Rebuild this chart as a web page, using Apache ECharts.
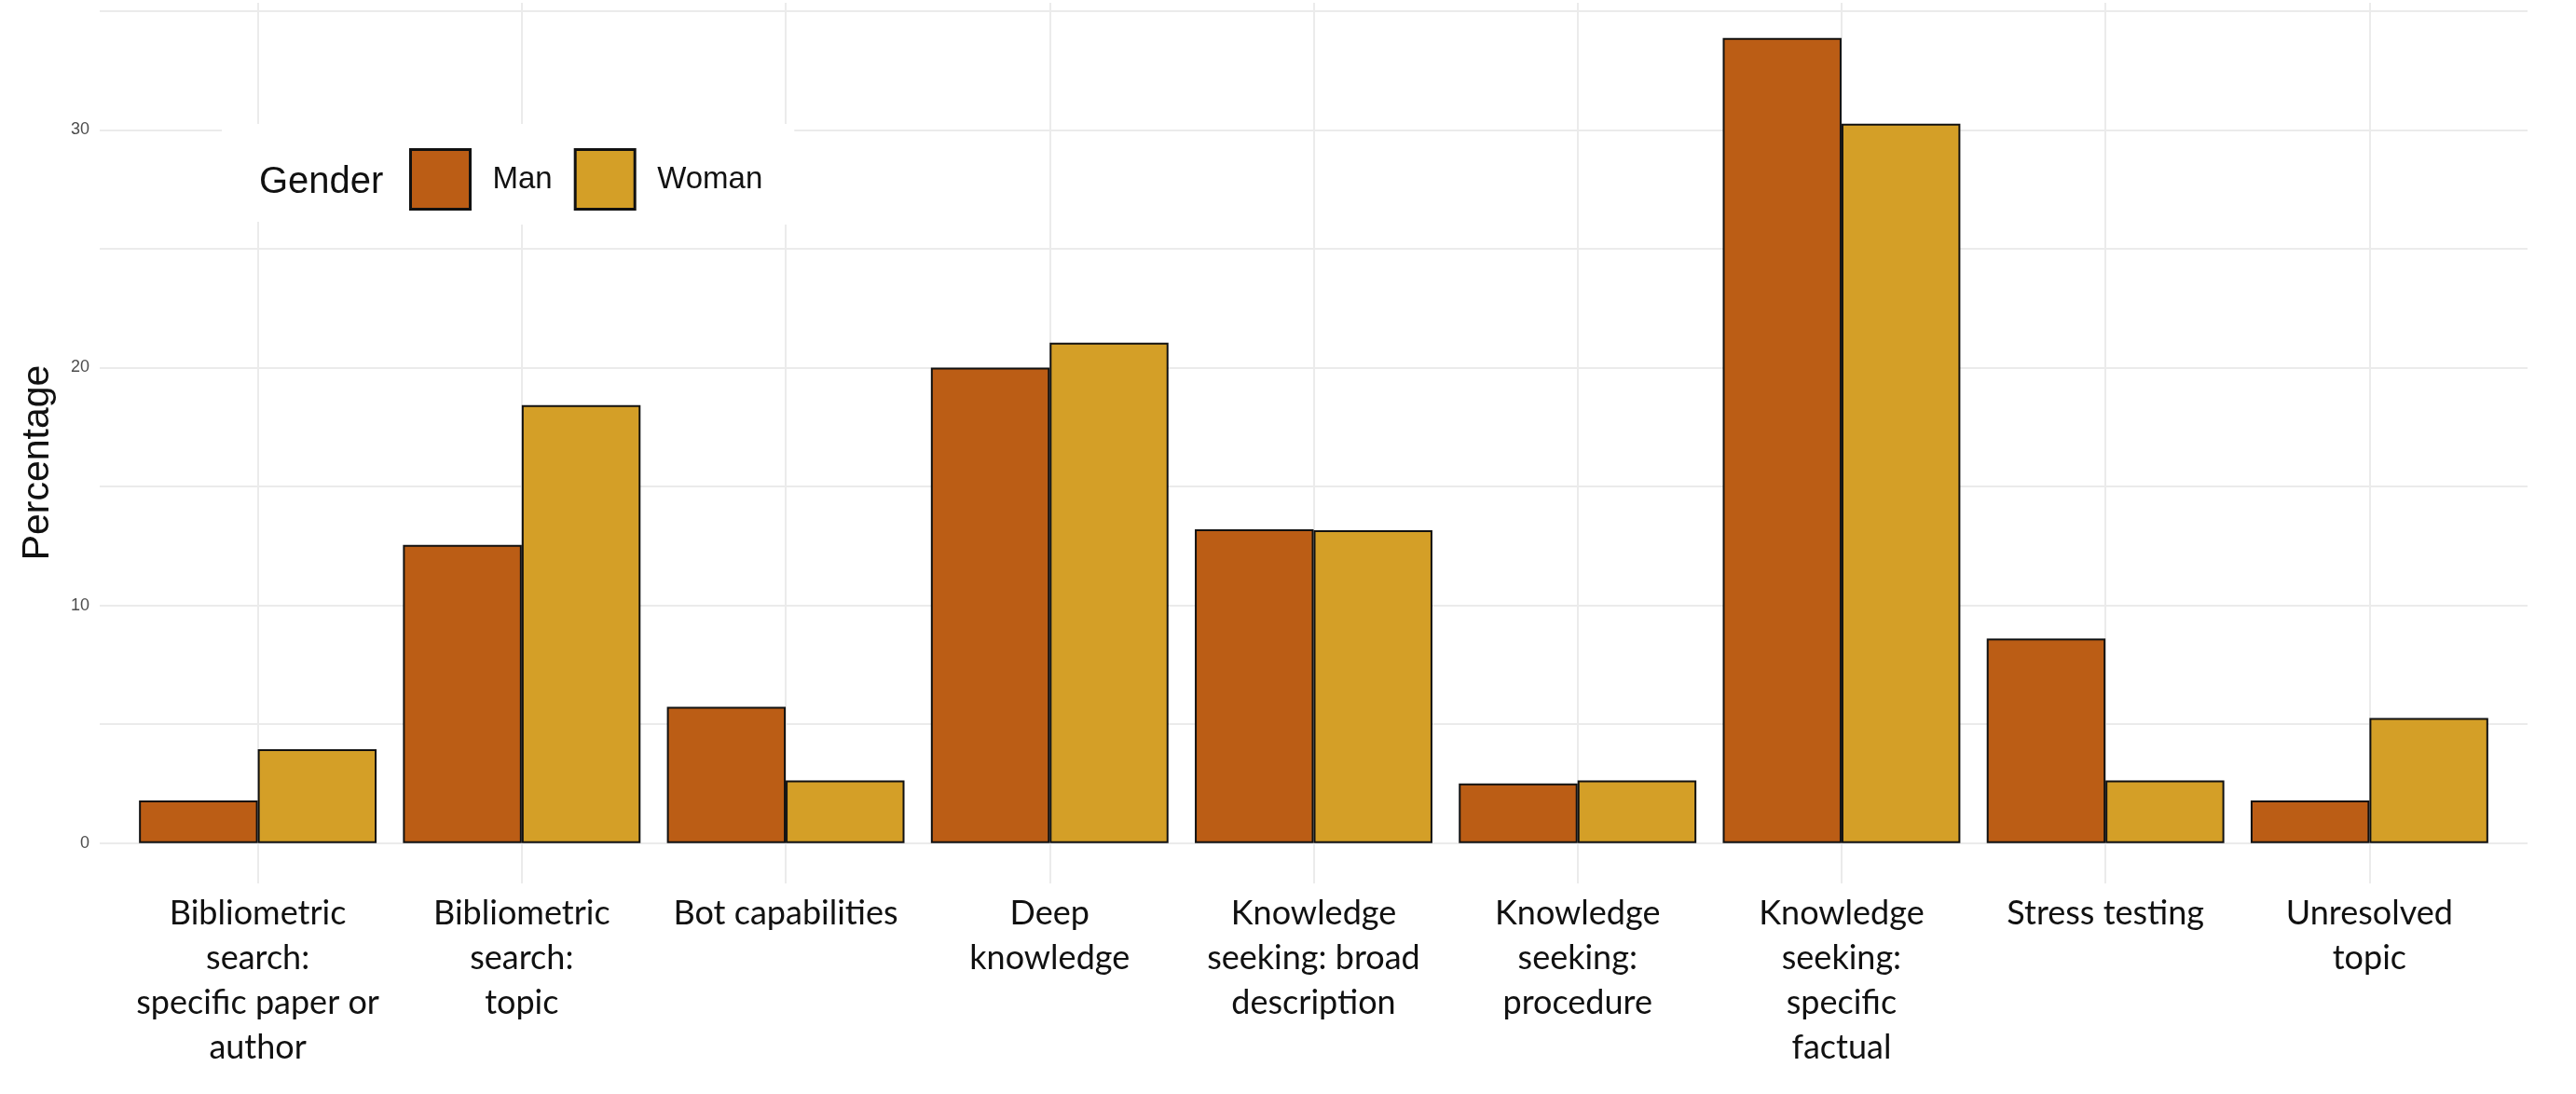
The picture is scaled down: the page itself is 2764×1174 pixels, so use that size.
<!DOCTYPE html>
<html>
  <head>
    <meta charset="utf-8" />
    <title>Query topics by gender</title>
    <script src="https://cdn.jsdelivr.net/npm/echarts@6/dist/echarts.min.js"></script>
    <style>
      html, body { margin: 0; padding: 0; background: #fff; }
      #main { width: 2764px; height: 1174px; }
    </style>
  </head>
  <body>
    <div id="main"></div>
    <script type="text/javascript">
      // categories on the x axis, and their wrapped tick labels
      var categories = [
        'Bibliometric search: specific paper or author',
        'Bibliometric search: topic',
        'Bot capabilities',
        'Deep knowledge',
        'Knowledge seeking: broad description',
        'Knowledge seeking: procedure',
        'Knowledge seeking: specific factual',
        'Stress testing',
        'Unresolved topic'
      ];
      var tickLabels = [
        'Bibliometric\nsearch:\nspecific paper or\nauthor',
        'Bibliometric\nsearch:\ntopic',
        'Bot capabilities',
        'Deep\nknowledge',
        'Knowledge\nseeking: broad\ndescription',
        'Knowledge\nseeking:\nprocedure',
        'Knowledge\nseeking:\nspecific\nfactual',
        'Stress testing',
        'Unresolved\ntopic'
      ];
      // percentages
      var manValues = [1.79, 12.54, 5.73, 20.0, 13.2, 2.5, 33.87, 8.6, 1.79];
      var womanValues = [3.95, 18.42, 2.63, 21.05, 13.16, 2.63, 30.26, 2.63, 5.26];
      var yLabelValues = [0, 10, 20, 30];
      var yGridValues = [0, 5, 10, 15, 20, 25, 30, 35];

      var manColor = '#BB5D15';
      var womanColor = '#D49F27';
      var yMin = -1.7, yMax = 35.35;

      var myChart = echarts.init(document.getElementById('main'));

      var option = {
        backgroundColor: '#ffffff',
        animation: false,
        title: {
          text: 'Gender',
          left: 238,
          top: 133,
          padding: [39, 25, 18, 40],
          backgroundColor: '#ffffff',
          textStyle: {
            fontFamily: 'Liberation Sans',
            fontSize: 40,
            fontWeight: 'normal',
            color: '#111',
            lineHeight: 48
          }
        },
        legend: {
          data: ['Man', 'Woman'],
          left: 415,
          top: 133,
          padding: [26, 34, 15, 24],
          backgroundColor: '#ffffff',
          itemWidth: 64,
          itemHeight: 64,
          itemGap: 23,
          icon: 'rect',
          itemStyle: { borderColor: '#111', borderWidth: 3 },
          textStyle: {
            fontFamily: 'Liberation Sans',
            fontSize: 33,
            color: '#111',
            padding: [4, 0, 0, 19]
          }
        },
        grid: [
          // panel: gridlines, y labels
          { left: 107, right: 52, top: 3, bottom: 226 },
          // bars
          { left: 135, right: 80, top: 3, bottom: 226 }
        ],
        xAxis: [
          { type: 'value', gridIndex: 0, min: 0, max: 1, show: false },
          {
            type: 'category',
            gridIndex: 1,
            data: categories,
            axisLine: { show: false, onZero: false },
            axisTick: { show: false },
            splitLine: { show: false },
            axisLabel: {
              interval: 0,
              margin: 8,
              fontFamily: 'Lato',
              fontSize: 36,
              lineHeight: 48,
              color: '#111',
              formatter: function (value, index) { return tickLabels[index]; }
            }
          }
        ],
        yAxis: [
          {
            type: 'value',
            gridIndex: 0,
            min: yMin,
            max: yMax,
            name: 'Percentage',
            nameLocation: 'middle',
            nameGap: 46,
            nameTextStyle: {
              fontFamily: 'Liberation Sans',
              fontSize: 41,
              color: '#111',
              padding: [0, 42, 0, 0]
            },
            axisLine: { show: false },
            axisTick: { show: false, customValues: yGridValues },
            axisLabel: {
              customValues: yLabelValues,
              margin: 11,
              fontFamily: 'Liberation Sans',
              fontSize: 18,
              color: '#4d4d4d'
            },
            splitLine: { show: true, lineStyle: { color: '#ebebeb', width: 2 } }
          },
          { type: 'value', gridIndex: 1, min: yMin, max: yMax, show: false }
        ],
        series: [
          {
            // carries only the vertical gridlines at the category centres
            name: 'gridlines',
            type: 'line',
            xAxisIndex: 1,
            yAxisIndex: 1,
            data: [],
            silent: true,
            z: 1,
            markLine: {
              silent: true,
              z: 1,
              symbol: ['none', 'none'],
              label: { show: false },
              lineStyle: { color: '#ebebeb', width: 2, type: 'solid' },
              data: categories.map(function (c) { return { xAxis: c }; })
            }
          },
          {
            name: 'Man',
            type: 'bar',
            xAxisIndex: 1,
            yAxisIndex: 1,
            data: manValues,
            barGap: '0%',
            barCategoryGap: '10%',
            itemStyle: { color: manColor, borderColor: '#111', borderWidth: 2 },
            z: 3
          },
          {
            name: 'Woman',
            type: 'bar',
            xAxisIndex: 1,
            yAxisIndex: 1,
            data: womanValues,
            barGap: '0%',
            barCategoryGap: '10%',
            itemStyle: { color: womanColor, borderColor: '#111', borderWidth: 2 },
            z: 3
          }
        ]
      };

      myChart.setOption(option);
    </script>
  </body>
</html>
